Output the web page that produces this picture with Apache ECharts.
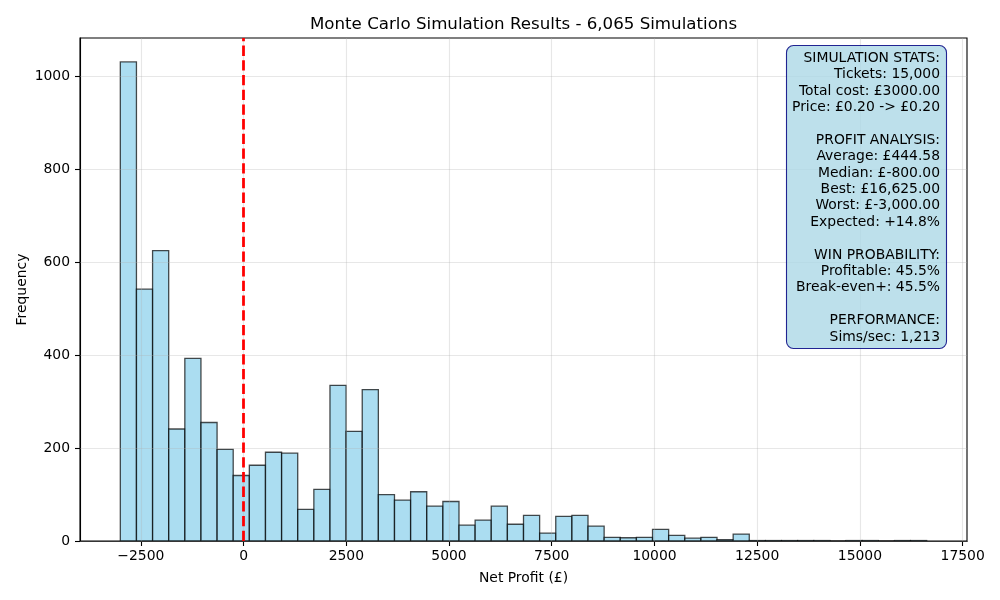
<!DOCTYPE html>
<html>
<head>
<meta charset="utf-8">
<script src="https://cdn.jsdelivr.net/npm/echarts@6/dist/echarts.min.js"></script>
<style>html,body{margin:0;padding:0;background:#fff}#c{width:1000px;height:600px}</style>
</head>
<body>
<div id="c"></div>
<script>
// ---- data ----
const binMin = -3000;
const binMax = 16625;
const binCount = 50;
const counts = [1031, 542, 625, 241, 393, 255, 197, 141, 163, 191,
                189, 68, 111, 335, 236, 326, 100, 88, 106, 75,
                85, 34, 45, 75, 36, 55, 17, 53, 55, 32,
                8, 7, 8, 25, 12, 6, 8, 3, 15, 1,
                1, 1, 1, 1, 0, 1, 1, 0, 1, 1];
const xTicks = [-2500, 0, 2500, 5000, 7500, 10000, 12500, 15000, 17500];
const yTicks = [0, 200, 400, 600, 800, 1000];
const breakEven = 0;
const titleText = 'Monte Carlo Simulation Results - 6,065 Simulations';
const xName = 'Net Profit (£)';
const yName = 'Frequency';
const statsLines = [
  'SIMULATION STATS:', 'Tickets: 15,000', 'Total cost: £3000.00', 'Price: £0.20 -> £0.20', '',
  'PROFIT ANALYSIS:', 'Average: £444.58', 'Median: £-800.00', 'Best: £16,625.00', 'Worst: £-3,000.00', 'Expected: +14.8%', '',
  'WIN PROBABILITY:', 'Profitable: 45.5%', 'Break-even+: 45.5%', '',
  'PERFORMANCE:', 'Sims/sec: 1,213'
];

// ---- build ----
const binW = (binMax - binMin) / binCount;
const histData = counts.map((c, i) => [binMin + i * binW, binMin + (i + 1) * binW, c]);
const span = binMax - binMin;
const xMin = binMin - span * 0.05, xMax = binMax + span * 0.05;
const yMax = Math.max(...counts) * 1.05;
const FONT = 'DejaVu Sans';
const gridColor = 'rgba(176,176,176,0.3)';

const chart = echarts.init(document.getElementById('c'), null, {renderer: 'canvas'});
chart.setOption({
  animation: false,
  backgroundColor: '#fff',
  textStyle: {fontFamily: FONT},
  grid: {left: 80, right: 33, top: 38, bottom: 59, show: true, borderColor: '#000', borderWidth: 1.1, backgroundColor: 'transparent'},
  xAxis: {
    type: 'value', min: xMin, max: xMax,
    name: xName, nameLocation: 'middle', nameGap: 30, nameMoveOverlap: false,
    nameTextStyle: {fontFamily: FONT, fontSize: 13.9, color: '#000'},
    axisLine: {show: true, onZero: false, lineStyle: {color: '#000', width: 1.1}},
    axisTick: {show: true, length: 5, lineStyle: {color: '#000', width: 1.1}, customValues: xTicks},
    axisLabel: {fontFamily: FONT, fontSize: 13.9, color: '#000', margin: 8, customValues: xTicks,
      formatter: v => String(v).replace('-', '\u2212')},
    splitLine: {show: false}
  },
  yAxis: {
    type: 'value', min: 0, max: yMax,
    name: yName, nameLocation: 'middle', nameGap: 51, nameRotate: 90, nameMoveOverlap: false,
    nameTextStyle: {fontFamily: FONT, fontSize: 13.9, color: '#000'},
    axisLine: {show: true, onZero: false, lineStyle: {color: '#000', width: 1.1}},
    axisTick: {show: true, length: 5, lineStyle: {color: '#000', width: 1.1}, customValues: yTicks},
    axisLabel: {fontFamily: FONT, fontSize: 13.9, color: '#000', margin: 10, customValues: yTicks,
      formatter: v => String(v)},
    splitLine: {show: false}
  },
  graphic: [
    {
      type: 'text', x: 523.5, y: 24.5, z: 100,
      style: {text: titleText, font: '16.67px "DejaVu Sans"', fill: '#000', textAlign: 'center', textVerticalAlign: 'middle'}
    },
    {
      type: 'rect', z: 100,
      shape: {x: 786.5, y: 45.5, width: 160, height: 303, r: 7},
      style: {fill: 'rgba(173,216,230,0.8)', stroke: 'rgba(0,0,128,0.85)', lineWidth: 1.1}
    },
    {
      type: 'text', x: 940, y: 50, z: 101,
      style: {text: statsLines.join('\n'), font: '13.9px "DejaVu Sans"', lineHeight: 16.4,
        fill: '#000', textAlign: 'right', textVerticalAlign: 'top'}
    }
  ],
  series: [
    {
      type: 'custom',
      data: histData,
      encode: {x: [0, 1], y: 2},
      z: 2,
      renderItem: function (params, api) {
        const p0 = api.coord([api.value(0), 0]);
        const p1 = api.coord([api.value(1), api.value(2)]);
        return {
          type: 'rect',
          shape: {x: p0[0], y: p1[1], width: p1[0] - p0[0], height: p0[1] - p1[1]},
          style: {fill: 'rgba(135,206,235,0.7)', stroke: 'rgba(0,0,0,0.7)', lineWidth: 1.3}
        };
      }
    },
    {
      type: 'line', data: [], z: 3,
      markLine: {
        silent: true, symbol: ['none', 'none'], animation: false,
        label: {show: false},
        lineStyle: {color: gridColor, width: 1.1, type: 'solid'},
        data: xTicks.map(v => ({xAxis: v})).concat(yTicks.map(v => ({yAxis: v})))
      }
    },
    {
      type: 'line', data: [], z: 4,
      markLine: {
        silent: true, symbol: ['none', 'none'], animation: false,
        label: {show: false},
        lineStyle: {color: '#ff0000', width: 2.78, type: [10.3, 4.4]},
        data: [{xAxis: breakEven}]
      }
    }
  ]
});
</script>
</body>
</html>
